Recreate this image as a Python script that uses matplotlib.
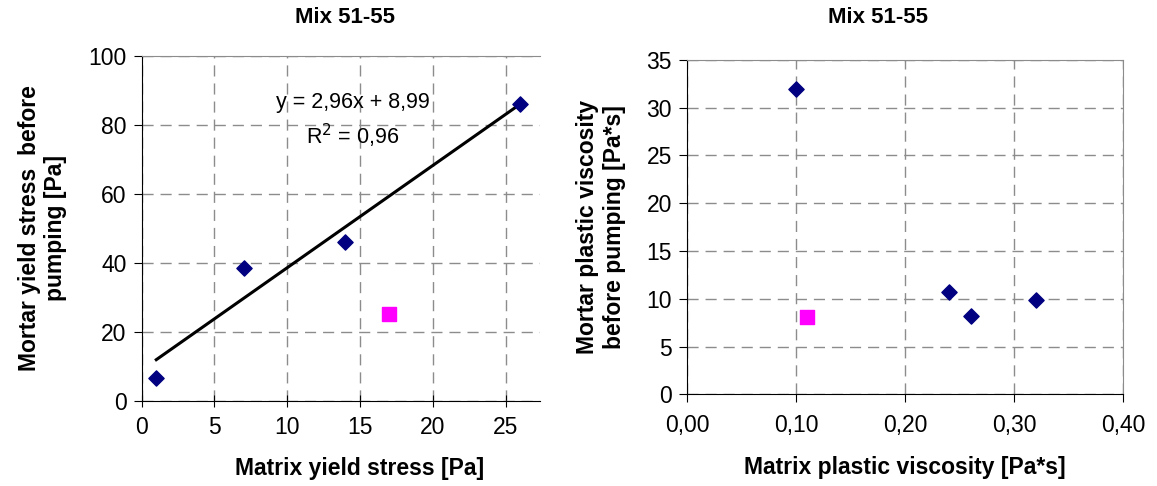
import matplotlib.pyplot as plt
import numpy as np

plt.rcParams['font.family'] = ['Liberation Sans', 'DejaVu Sans']

# Mix 51-55: matrix vs mortar yield stress
ys_matrix = [1, 7, 14, 26]
ys_mortar = [6.7, 38.6, 46.1, 86.0]
ys_matrix_out = [17]
ys_mortar_out = [25.2]
slope, intercept, r2 = 2.96, 8.99, 0.96

# Mix 51-55: matrix vs mortar plastic viscosity
pv_matrix = [0.10, 0.24, 0.26, 0.32]
pv_mortar = [32.0, 10.7, 8.2, 9.85]
pv_matrix_out = [0.11]
pv_mortar_out = [8.1]

navy = '#000080'
grid_kw = dict(color='#8c8c8c', linestyle=(0, (8, 5)), linewidth=1.0)

fig = plt.figure(figsize=(11.57, 4.86), dpi=100)
ax1 = fig.add_axes([0.1225, 0.175, 0.344, 0.7105])
ax2 = fig.add_axes([0.594, 0.1887, 0.3768, 0.688])

# titles sit a bit off the axes centres
fig.text(0.298, 0.965, "Mix 51-55", ha='center', va='center', fontsize=16, fontweight='bold')
fig.text(0.759, 0.965, "Mix 51-55", ha='center', va='center', fontsize=16, fontweight='bold')

# --- Yield stress ---
ax1.scatter(ys_matrix, ys_mortar, marker='D', s=60, color=navy, zorder=3)
ax1.scatter(ys_matrix_out, ys_mortar_out, marker='s', s=90, color='#ff00ff', zorder=3)
xf = np.array([min(ys_matrix), max(ys_matrix)])
ax1.plot(xf, slope * xf + intercept, color='black', linewidth=2.2, zorder=2)
ax1.text(14.5, 86.4, f"y = {slope:.2f}x + {intercept:.2f}".replace('.', ','),
         ha='center', va='center', fontsize=15.5)
ax1.text(14.5, 76.8, f"R$^2$ = {r2:.2f}".replace('.', ','),
         ha='center', va='center', fontsize=15.5)
ax1.set_xlim(0, 27.35)
ax1.set_ylim(0, 100)
ax1.set_xticks(np.arange(0, 26, 5))
ax1.set_yticks(np.arange(0, 101, 20))
ax1.set_xlabel("Matrix yield stress [Pa]", fontsize=16.5, fontweight='bold')
ax1.xaxis.set_label_coords(0.547, -0.162)
ax1.set_ylabel("Mortar yield stress  before\npumping [Pa]", fontsize=16.5,
               fontweight='bold', labelpad=15)
ax1.grid(True, **grid_kw)
ax1.spines['right'].set_visible(False)
ax1.spines['top'].set_color('#8c8c8c')
ax1.tick_params(axis='x', direction='inout', length=8, labelsize=16.5, pad=7)
ax1.tick_params(axis='y', direction='out', length=6, labelsize=16.5, pad=5)

# --- Plastic viscosity ---
ax2.scatter(pv_matrix, pv_mortar, marker='D', s=60, color=navy, zorder=3)
ax2.scatter(pv_matrix_out, pv_mortar_out, marker='s', s=90, color='#ff00ff', zorder=3)
ax2.set_xlim(0, 0.40)
ax2.set_ylim(0, 35)
ax2.set_xticks(np.arange(0, 0.41, 0.1))
ax2.set_xticklabels([f"{v:.2f}".replace('.', ',') for v in np.arange(0, 0.41, 0.1)])
ax2.set_yticks(np.arange(0, 36, 5))
ax2.set_xlabel("Matrix plastic viscosity [Pa*s]", fontsize=16.5, fontweight='bold', labelpad=14)
ax2.set_ylabel("Mortar plastic viscosity\nbefore pumping [Pa*s]", fontsize=16.5,
               fontweight='bold', labelpad=15)
ax2.grid(True, **grid_kw)
ax2.spines['right'].set_color('#8c8c8c')
ax2.spines['top'].set_color('#8c8c8c')
ax2.tick_params(axis='x', direction='out', length=6, labelsize=16.5, pad=8)
ax2.tick_params(axis='y', direction='out', length=6, labelsize=16.5, pad=5)

fig.savefig("out.png", dpi=100)
